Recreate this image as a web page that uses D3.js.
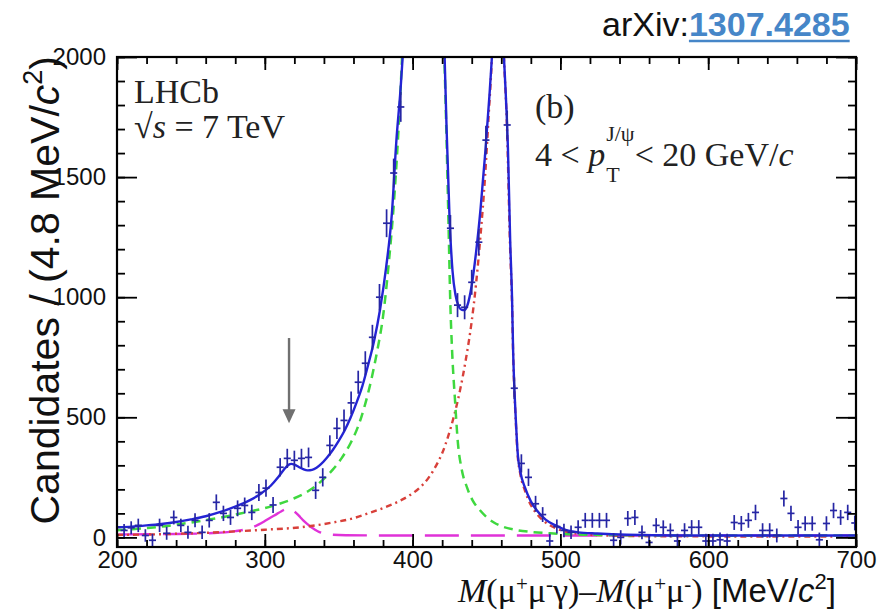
<!DOCTYPE html>
<html>
<head>
<meta charset="utf-8">
<script src="https://cdn.jsdelivr.net/npm/d3@7"></script>
<style>
  body { margin: 0; background: #fff; }
  svg { display: block; }
</style>
</head>
<body>
<svg id="chart" width="880" height="610"></svg>
<script>
// Histogram: candidates per 4.8 MeV/c^2 bin, bins centred from 200 MeV/c^2 upward
const binStart = 200;
const binWidth = 4.8;
const counts = [
  42, 29, 40, 50, 8, -12, 50, 17, 83, 50,
  21, 71, 21, 71, 146, 100, 83, 121, 133, 104,
  187, 205, 135, 292, 329, 321, 329, 333, 196, 250,
  383, 454, 487, 560, 646, 725, 833, 1000, 1308, 1517,
  1792, 2600, 3400, 3900, 3700, 3100, 2300, 1287, 967, 958,
  1062, 1229, 1654, 2250, 2500, 1717, 621, 308, 250, 140,
  95, -15, 45, 29, 21, 42, 71, 71, 71, 71,
  -12, 0, 79, 83, 21, -21, 50, 42, 29, -15,
  29, 42, 42, -15, -15, -10, -15, 62, 58, 71,
  104, 29, 29, 8, 162, 100, 42, 58, 58, -10,
  58, 112, 83, 104, 60
];
const errors = [
  26, 27, 27, 28, 26, 27, 28, 27, 29, 28,
  27, 29, 28, 30, 33, 32, 31, 33, 33, 32,
  35, 36, 33, 38, 40, 40, 40, 41, 36, 38,
  42, 44, 45, 47, 48, 50, 52, 55, 58, 60,
  62, 65, 70, 72, 72, 70, 66, 55, 50, 50,
  52, 55, 60, 66, 68, 60, 45, 38, 36, 33,
  31, 30, 29, 28, 28, 29, 31, 31, 31, 31,
  30, 30, 31, 31, 29, 30, 30, 29, 29, 30,
  30, 30, 30, 30, 30, 30, 30, 31, 31, 31,
  32, 30, 30, 29, 33, 32, 30, 30, 30, 30,
  30, 32, 31, 32, 31
];

// Fit components: [deltaM, candidates]
const totalFit = [
  [200, 42], [210, 45], [220, 50], [230, 56], [240, 64], [250, 75], [260, 88], [270, 106],
  [280, 128], [290, 155], [298, 185], [304, 215], [309, 250], [313, 283], [316, 302], [318, 306],
  [320, 303], [323, 293], [326, 284], [329, 279], [332, 281], [335, 290], [338, 305], [342, 332],
  [346, 364], [350, 402], [354, 445], [358, 498], [362, 560], [366, 630], [370, 720], [374, 820],
  [378, 950], [382, 1120], [386, 1350], [389, 1650], [392, 1880], [394, 2080], [400, 3200],
  [407, 4000], [414, 3400], [418, 2700], [421, 2150], [423, 1700], [425, 1330], [427, 1110],
  [429, 1010], [431, 965], [433, 948], [435, 946], [437, 965], [440, 1050], [443, 1190],
  [446, 1370], [449, 1590], [452, 1840], [455, 2150], [458, 2600], [461, 2100], [463, 1850],
  [464.5, 1620], [466, 1240], [467.3, 990], [468, 780], [469, 600], [470, 470], [471, 360],
  [473, 270], [476, 208], [480, 150], [484, 113], [490, 74], [497, 49], [504, 30], [512, 21],
  [525, 16], [545, 11], [580, 8], [640, 8], [700, 8]
];
const chic1Fit = [
  [200, 30], [210, 34], [220, 39], [230, 45], [240, 53], [250, 62], [260, 72], [270, 82],
  [280, 95], [290, 108], [300, 122], [310, 140], [320, 163], [330, 195], [336, 222], [341, 250],
  [346, 282], [352, 330], [358, 392], [363, 460], [367, 535], [372, 655], [376, 775], [380, 920],
  [384, 1150], [388, 1450], [391, 1760], [393, 2020], [397, 2700], [402, 3500], [407, 3900],
  [412, 3600], [416, 3000], [419, 2500], [421.5, 2000], [423, 1650], [424.5, 1250], [425.5, 980],
  [426.7, 780], [428.7, 570], [430.7, 390], [433, 290], [436.8, 208], [441, 150], [445.6, 113],
  [450, 85], [455, 62], [460, 47], [470, 31], [480, 23], [493, 17], [505, 13], [520, 11],
  [550, 9], [600, 8], [700, 8]
];
const chic2Fit = [
  [200, 10], [220, 12], [240, 15], [260, 19], [280, 25], [300, 32], [324, 42], [346, 62],
  [360, 80], [370, 100], [380, 122], [390, 148], [398, 175], [405, 208], [411, 250], [416, 300],
  [420, 350], [424, 420], [428, 505], [432, 610], [436, 740], [440, 900], [443, 1060],
  [446, 1260], [449, 1500], [451.5, 1760], [453.7, 2000], [456, 2350], [458, 2500], [460, 2300],
  [461.8, 2000], [463.9, 1700], [465.9, 1220], [467.3, 970], [468, 770], [469, 590], [470, 460],
  [471, 350], [473, 260], [476, 195], [480, 135], [484, 98], [490, 62], [497, 38], [505, 22],
  [515, 13], [530, 8], [560, 5], [600, 4], [700, 3]
];
const chic0Fit = [
  [200, 12], [220, 13], [240, 14], [255, 16], [265, 18], [273, 21], [280, 26], [286, 32],
  [291, 40], [296, 54], [300, 68], [304, 83], [308, 97], [311, 108], [314, 117], [316, 121],
  [318, 117], [320, 108], [322, 97], [324, 84], [326, 71], [328.5, 57], [331, 44], [334, 32],
  [337, 22], [341, 15], [346, 11], [355, 9], [380, 8], [700, 8]
];

// Arrow marking the chi_c0 region: [deltaM, from, to]
const arrowMark = [316.4, 830, 475];

const xMajorTicks = [200, 300, 400, 500, 600, 700];
const yMajorTicks = [0, 500, 1000, 1500, 2000];
const xMinorStep = 20;
const yMinorStep = 100;

const svg = d3.select("#chart");
const frame = { left: 117, right: 856, top: 57, bottom: 547 };
const x = d3.scaleLinear().domain([200, 700]).range([frame.left, frame.right]);
const y = d3.scaleLinear().domain([-40, 2000]).range([frame.bottom, frame.top]);

const sans = "'Liberation Sans', Arial, sans-serif";
const serif = "'Liberation Serif', 'Times New Roman', serif";

svg.append("defs").append("clipPath").attr("id", "plotClip")
  .append("rect")
  .attr("x", frame.left).attr("y", frame.top)
  .attr("width", frame.right - frame.left).attr("height", frame.bottom - frame.top);

// ---- fit curves ----
const line = d3.line().x(d => x(d[0])).y(d => y(d[1])).curve(d3.curveMonotoneX);
const curves = svg.append("g").attr("clip-path", "url(#plotClip)").attr("fill", "none");

curves.append("path").datum(chic0Fit).attr("d", line)
  .attr("stroke", "#e032d8").attr("stroke-width", 2.4).attr("stroke-dasharray", "34,12");
curves.append("path").datum(chic2Fit).attr("d", line)
  .attr("stroke", "#d8403a").attr("stroke-width", 2.4).attr("stroke-dasharray", "6,4,2,4");
curves.append("path").datum(chic1Fit).attr("d", line)
  .attr("stroke", "#3fd83f").attr("stroke-width", 2.5).attr("stroke-dasharray", "9,6");
curves.append("path").datum(totalFit).attr("d", line)
  .attr("stroke", "#2424d4").attr("stroke-width", 2.4);

// ---- data points with error bars ----
const bins = counts.map((v, i) => ({ c: binStart + i * binWidth, v: v, e: errors[i] }));
const pts = svg.append("g").attr("clip-path", "url(#plotClip)")
  .attr("stroke", "#2626a4").attr("stroke-width", 1.7);
pts.selectAll("line.ev").data(bins).join("line").attr("class", "ev")
  .attr("x1", d => x(d.c)).attr("x2", d => x(d.c))
  .attr("y1", d => y(d.v - d.e)).attr("y2", d => y(d.v + d.e));
pts.selectAll("line.eh").data(bins).join("line").attr("class", "eh")
  .attr("x1", d => x(d.c - binWidth / 2)).attr("x2", d => x(d.c + binWidth / 2))
  .attr("y1", d => y(d.v)).attr("y2", d => y(d.v));

// ---- axes (ticks on all four sides, pointing inward) ----
function styleAxis(g) {
  g.select(".domain").remove();
  g.selectAll(".tick line").attr("stroke", "#000").attr("stroke-width", 1.8);
  g.selectAll("text").attr("font-family", sans).attr("font-size", 24).attr("fill", "#111");
}
const xMinor = d3.range(200, 700.001, xMinorStep);
const yMinor = d3.range(0, 2000.001, yMinorStep);

svg.append("g").attr("transform", `translate(0,${frame.bottom})`)
  .call(d3.axisBottom(x).tickValues(xMinor).tickSizeInner(-7).tickSizeOuter(0).tickFormat(""))
  .call(styleAxis);
svg.append("g").attr("transform", `translate(0,${frame.bottom})`)
  .call(d3.axisBottom(x).tickValues(xMajorTicks).tickSizeInner(-13).tickSizeOuter(0).tickPadding(4).tickFormat(d3.format("d")))
  .call(styleAxis);
svg.append("g").attr("transform", `translate(0,${frame.top})`)
  .call(d3.axisTop(x).tickValues(xMinor).tickSizeInner(-7).tickSizeOuter(0).tickFormat(""))
  .call(styleAxis);
svg.append("g").attr("transform", `translate(0,${frame.top})`)
  .call(d3.axisTop(x).tickValues(xMajorTicks).tickSizeInner(-13).tickSizeOuter(0).tickFormat(""))
  .call(styleAxis);

svg.append("g").attr("transform", `translate(${frame.left},0)`)
  .call(d3.axisLeft(y).tickValues(yMinor).tickSizeInner(-8).tickSizeOuter(0).tickFormat(""))
  .call(styleAxis);
svg.append("g").attr("transform", `translate(${frame.left},0)`)
  .call(d3.axisLeft(y).tickValues(yMajorTicks).tickSizeInner(-20).tickSizeOuter(0).tickPadding(11).tickFormat(d3.format("d")))
  .call(styleAxis);
svg.append("g").attr("transform", `translate(${frame.right},0)`)
  .call(d3.axisRight(y).tickValues(yMinor).tickSizeInner(-8).tickSizeOuter(0).tickFormat(""))
  .call(styleAxis);
svg.append("g").attr("transform", `translate(${frame.right},0)`)
  .call(d3.axisRight(y).tickValues(yMajorTicks).tickSizeInner(-20).tickSizeOuter(0).tickFormat(""))
  .call(styleAxis);

svg.append("rect")
  .attr("x", frame.left).attr("y", frame.top)
  .attr("width", frame.right - frame.left).attr("height", frame.bottom - frame.top)
  .attr("fill", "none").attr("stroke", "#000").attr("stroke-width", 2.2);

// ---- arrow ----
const ax = x(arrowMark[0]), ay0 = y(arrowMark[1]), ay1 = y(arrowMark[2]);
svg.append("line").attr("x1", ax).attr("x2", ax).attr("y1", ay0).attr("y2", ay1 - 10)
  .attr("stroke", "#707070").attr("stroke-width", 2.4);
svg.append("path")
  .attr("d", `M${ax - 6.5},${ay1 - 14} L${ax + 6.5},${ay1 - 14} L${ax},${ay1} Z`)
  .attr("fill", "#707070");

// ---- axis titles ----
const yTitle = svg.append("text")
  .attr("transform", `translate(59,56) rotate(-90)`)
  .attr("text-anchor", "end")
  .attr("font-family", sans).attr("font-size", 41).attr("fill", "#111");
yTitle.append("tspan").text("Candidates / (4.8 MeV/");
yTitle.append("tspan").attr("font-style", "italic").text("c");
yTitle.append("tspan").attr("font-size", 27).attr("dy", -17).text("2");
yTitle.append("tspan").attr("dy", 17).text(")");

const xTitle = svg.append("text")
  .attr("x", 458).attr("y", 602)
  .attr("font-family", serif).attr("font-size", 34).attr("fill", "#111");
function sup(t, s) { t.append("tspan").attr("font-size", 21).attr("dy", -11).text(s); }
function back(t, s) { return t.append("tspan").attr("dy", 11).text(s); }
xTitle.append("tspan").attr("font-style", "italic").text("M");
xTitle.append("tspan").text("(μ");
sup(xTitle, "+");
back(xTitle, "μ");
sup(xTitle, "-");
back(xTitle, "γ)–");
xTitle.append("tspan").attr("font-style", "italic").text("M");
xTitle.append("tspan").text("(μ");
sup(xTitle, "+");
back(xTitle, "μ");
sup(xTitle, "-");
back(xTitle, ")");
xTitle.append("tspan").attr("font-family", sans).attr("font-size", 33).text(" [MeV/");
xTitle.append("tspan").attr("font-family", sans).attr("font-size", 33).attr("font-style", "italic").text("c");
xTitle.append("tspan").attr("font-family", sans).attr("font-size", 22).attr("dy", -13).text("2");
xTitle.append("tspan").attr("font-family", sans).attr("font-size", 33).attr("dy", 13).text("]");

// ---- in-plot labels ----
const lhcb = svg.append("g").attr("font-family", serif).attr("font-size", 34).attr("fill", "#222");
lhcb.append("text").attr("x", 134).attr("y", 103).text("LHCb");
const roots = lhcb.append("text").attr("x", 134).attr("y", 138);
roots.append("tspan").text("√");
roots.append("tspan").attr("font-style", "italic").text("s");
roots.append("tspan").text(" = 7 TeV");

lhcb.append("text").attr("x", 535).attr("y", 118).text("(b)");
const ptText = lhcb.append("text").attr("x", 535).attr("y", 166);
ptText.append("tspan").text("4 < ");
ptText.append("tspan").attr("font-style", "italic").text("p");
const ptX = 535 + ptText.node().getComputedTextLength() + 1;
const supT = lhcb.append("text").attr("x", ptX).attr("y", 141).attr("font-size", 22).text("J/ψ");
const subT = lhcb.append("text").attr("x", ptX).attr("y", 182).attr("font-size", 22).text("T");
const restX = ptX + Math.max(supT.node().getComputedTextLength(), subT.node().getComputedTextLength());
const restT = lhcb.append("text").attr("x", restX).attr("y", 166);
restT.append("tspan").text("< 20 GeV/");
restT.append("tspan").attr("font-style", "italic").text("c");

// ---- reference tag ----
const tag = svg.append("text").attr("x", 602).attr("y", 36)
  .attr("font-family", sans).attr("font-size", 34);
tag.append("tspan").attr("fill", "#111").text("arXiv:");
const tagPrefix = tag.node().getComputedTextLength();
tag.append("tspan").attr("fill", "#4686c8").attr("font-weight", "bold").text("1307.4285");
const tagTotal = tag.node().getComputedTextLength();
svg.append("line")
  .attr("x1", 602 + tagPrefix).attr("x2", 602 + tagTotal)
  .attr("y1", 41).attr("y2", 41)
  .attr("stroke", "#4686c8").attr("stroke-width", 2.5);
</script>
</body>
</html>
